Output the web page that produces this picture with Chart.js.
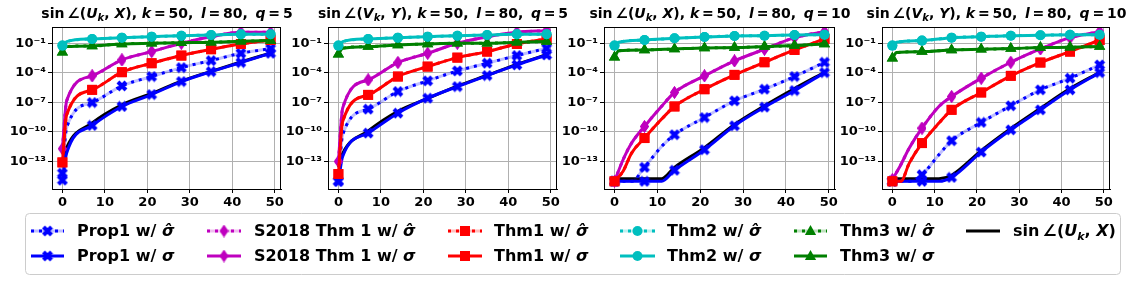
<!DOCTYPE html>
<html>
<head>
<meta charset="utf-8">
<script src="https://cdn.jsdelivr.net/npm/chart.js@4"></script>
<style>
  body { margin: 0; width: 1136px; height: 281px; background: #fff; position: relative; overflow: hidden;
         font-family: "DejaVu Sans", sans-serif; }
  canvas { position: absolute; top: 0; }
  .title { position: absolute; top: 5px; font-weight: bold; font-size: 14px; line-height: 16px;
           white-space: nowrap; transform: translateX(-50%); }
  .title sub { font-size: 10px; vertical-align: -3px; line-height: 0; }
  .lg { position: absolute; font-weight: bold; font-size: 16px; line-height: 20px; white-space: nowrap; }
  .lg sub { font-size: 11px; vertical-align: -4px; line-height: 0; }
</style>
</head>
<body>
<canvas id="legendBox" width="1136" height="281"></canvas>
<canvas id="c1"></canvas>
<canvas id="c2"></canvas>
<canvas id="c3"></canvas>
<canvas id="c4"></canvas>

<script>
// iteration index where values were read; markers sit on multiples of 7
const XS = [0, 1, 2, 4, 7, 11, 14, 21, 28, 35, 42, 49];
const _ = null;

// values are log10 of sin angle
// panel 1: sin∠(U_k, X), q = 5
const P1_PROP1_HAT = [-14.2, -9.55, _, _, -7.02, _, -5.33, -4.38, -3.47, -2.76, -2.02, -1.54];
const P1_PROP1     = [-14.9, -12.15, _, _, -9.35, _, -7.42, -6.21, -4.89, -3.88, -2.96, -2.02];
const P1_S2018     = [-11.71, -6.85, _, _, -4.31, _, -2.69, -1.85, -1.0, -0.33, 0.11, 0.11];
const P1_THM1      = [-13.1, -8.27, _, _, -5.73, _, -3.94, -3.03, -2.25, -1.61, -1.07, -0.67];
const P1_THM2      = [-1.24, -0.84, _, _, -0.56, _, -0.43, -0.33, -0.23, -0.16, -0.09, -0.09];
const P1_THM3      = [-1.92, -1.34, _, _, -1.27, _, -1.07, -1.0, -0.94, -0.9, -0.8, -0.73];
const P1_TRUE      = [-13.2, -11.6, _, _, -9.1, _, -7.25, -6.1, -4.85, -3.85, -2.9, -2.0];

// panel 2: sin∠(V_k, Y), q = 5
const P2_PROP1_HAT = [-15.02, -10.29, _, _, -7.69, _, -5.9, -4.82, -3.81, -3.03, -2.25, -1.51];
const P2_PROP1     = [-15.02, -12.49, _, _, -10.12, _, -8.1, -6.58, -5.4, -4.28, -3.2, -2.19];
const P2_S2018     = [-13.0, -7.59, _, _, -4.72, _, -2.96, -2.02, -1.0, -0.33, 0.11, 0.28];
const P2_THM1      = [-14.28, -8.94, _, _, -6.24, _, -4.38, -3.37, -2.46, -1.85, -1.07, -0.56];
const P2_THM2      = [-1.24, -0.84, _, _, -0.56, _, -0.43, -0.33, -0.23, -0.16, -0.09, -0.09];
const P2_THM3      = [-2.12, -1.5, _, _, -1.34, _, -1.17, -1.07, -1.0, -1.0, -0.9, -0.83];
const P2_TRUE      = [-13.6, -12.2, _, _, -9.9, _, -7.9, -6.6, -5.35, -4.25, -3.15, -2.15];

// panel 3: sin∠(U_k, X), q = 10
const P3_PROP1_HAT = [-15.02, _, -15.02, -15.02, -13.6, -11.48, -10.29, -8.54, -6.85, -5.67, -4.38, -2.93];
const P3_PROP1     = [-15.02, _, -15.02, -15.02, -15.02, -15.02, -13.9, -11.81, -9.38, -7.49, -5.8, -3.98];
const P3_S2018     = [-15.02, _, -12.83, -11.13, -9.45, -7.4, -6.0, -4.31, -2.79, -1.61, -0.43, 0.18];
const P3_THM1      = [-15.02, _, -14.0, -12.15, -10.63, -8.7, -7.42, -5.67, -4.21, -2.93, -1.68, -0.56];
const P3_THM2      = [-1.24, -0.9, _, _, -0.67, _, -0.5, -0.36, -0.26, -0.23, -0.16, -0.13];
const P3_THM3      = [-2.42, -1.75, _, _, -1.68, _, -1.58, -1.48, -1.44, -1.34, -1.24, -1.07];
const P3_TRUE      = [-14.75, _, -14.75, -14.75, -14.75, -14.75, -13.6, -11.6, -9.25, -7.35, -5.6, -3.95];

// panel 4: sin∠(V_k, Y), q = 10
const P4_PROP1_HAT = [-15.02, _, -15.02, -15.02, -14.35, -12.32, -10.9, -9.04, -7.35, -5.73, -4.55, -3.2];
const P4_PROP1     = [-15.02, _, -15.02, -15.02, -15.02, -15.02, -14.62, -12.05, -9.79, -7.76, -5.73, -3.98];
const P4_S2018     = [-14.85, _, -13.33, -11.64, -9.62, -7.42, -6.41, -4.55, -2.93, -1.58, -0.43, 0.18];
const P4_THM1      = [-15.02, _, -15.02, -13.17, -11.14, -9.11, -7.76, -6.0, -4.31, -2.96, -1.85, -0.67];
const P4_THM2      = [-1.24, -0.9, _, _, -0.73, _, -0.43, -0.33, -0.23, -0.19, -0.13, -0.13];
const P4_THM3      = [-2.52, -1.95, _, _, -1.85, _, -1.68, -1.61, -1.54, -1.44, -1.41, -1.34];
const P4_TRUE      = [-14.75, _, -14.75, -14.75, -14.75, -14.75, -14.4, -11.9, -9.65, -7.6, -5.6, -3.95];

const X_TICKS = [0, 10, 20, 30, 40, 50];
const Y_TICK_EXP = [-13, -10, -7, -4, -1];

const BLUE = '#0000ff', MAG = '#bf00bf', RED = '#ff0000', CYAN = '#00bfbf', GREEN = '#008000';
const FONT = '"DejaVu Sans", sans-serif';

// markers matplotlib has but chart.js doesn't
function markX(color) {
  const c = document.createElement('canvas');
  c.width = c.height = 12;
  const g = c.getContext('2d');
  g.strokeStyle = color; g.lineWidth = 4;
  g.beginPath(); g.moveTo(2, 2); g.lineTo(10, 10); g.moveTo(10, 2); g.lineTo(2, 10); g.stroke();
  return c;
}
function markThinDiamond(color) {
  const c = document.createElement('canvas');
  c.width = 9; c.height = 13;
  const g = c.getContext('2d');
  g.fillStyle = color;
  g.beginPath(); g.moveTo(4.5, 0); g.lineTo(9, 6.5); g.lineTo(4.5, 13); g.lineTo(0, 6.5); g.closePath(); g.fill();
  return c;
}
const X_MARK = markX(BLUE);
const D_MARK = markThinDiamond(MAG);

function pts(arr) {
  return XS.map((x, i) => arr[i] === null ? null : { x: x, y: Math.pow(10, arr[i]) }).filter(p => p);
}

function series(arr, color, dotted, style, size) {
  return {
    data: pts(arr),
    borderColor: color,
    backgroundColor: color,
    borderWidth: 3,
    borderDash: dotted ? [3, 5] : [],
    pointStyle: style,
    pointRadius: c => (style && c.raw && c.raw.x % 7 === 0) ? size : 0,
    pointBorderWidth: 0,
    cubicInterpolationMode: 'monotone',
  };
}
function pale(arr, color) {
  return { data: pts(arr), borderColor: color + '40', borderWidth: 3, pointRadius: 0,
           cubicInterpolationMode: 'monotone' };
}

const supMap = { '-': '\u207B', '0': '\u2070', '1': '\u00B9', '2': '\u00B2', '3': '\u00B3', '4': '\u2074',
                 '5': '\u2075', '6': '\u2076', '7': '\u2077', '8': '\u2078', '9': '\u2079' };
function expLabel(v) {
  const e = String(Math.round(Math.log10(v)));
  return '10' + e.split('').map(ch => supMap[ch]).join('');
}

const frame = {
  id: 'frame',
  afterDraw(chart) {
    const a = chart.chartArea, g = chart.ctx;
    g.save();
    g.strokeStyle = '#000'; g.lineWidth = 1;
    g.strokeRect(Math.round(a.left) + 0.5, Math.round(a.top) + 0.5,
                 Math.round(a.right - a.left) - 1, Math.round(a.bottom - a.top));
    g.restore();
  }
};

const panels = [
  { id: 'c1', axL: 52, axR: 282, lhs: 'U', rhs: 'X', q: 5,
    vals: [P1_PROP1_HAT, P1_PROP1, P1_S2018, P1_THM1, P1_THM2, P1_THM3, P1_TRUE] },
  { id: 'c2', axL: 328, axR: 558, lhs: 'V', rhs: 'Y', q: 5,
    vals: [P2_PROP1_HAT, P2_PROP1, P2_S2018, P2_THM1, P2_THM2, P2_THM3, P2_TRUE] },
  { id: 'c3', axL: 604, axR: 836, lhs: 'U', rhs: 'X', q: 10,
    vals: [P3_PROP1_HAT, P3_PROP1, P3_S2018, P3_THM1, P3_THM2, P3_THM3, P3_TRUE] },
  { id: 'c4', axL: 882, axR: 1111, lhs: 'V', rhs: 'Y', q: 10,
    vals: [P4_PROP1_HAT, P4_PROP1, P4_S2018, P4_THM1, P4_THM2, P4_THM3, P4_TRUE] },
];

const YW = 52, PADR = 6, H = 210;

panels.forEach(p => {
  const [propHat, prop, s2018, thm1, thm2, thm3, truth] = p.vals;
  const cv = document.getElementById(p.id);
  cv.width = YW + (p.axR - p.axL) + PADR;
  cv.height = H;
  cv.style.left = (p.axL - YW) + 'px';

  // bottom first, top last
  const layers = [
    { data: pts(truth), borderColor: '#000', borderWidth: 3, pointRadius: 0, cubicInterpolationMode: 'monotone' },
    pale(propHat, BLUE),
    series(propHat, BLUE, true, X_MARK, 6),
    series(prop, BLUE, false, X_MARK, 6),
    series(s2018, MAG, true, D_MARK, 6),
    series(s2018, MAG, false, D_MARK, 6),
    series(thm1, RED, true, 'rect', 7),
    series(thm1, RED, false, 'rect', 7),
    series(thm3, GREEN, true, 'triangle', 6.5),
    series(thm3, GREEN, false, 'triangle', 6.5),
    series(thm2, CYAN, true, 'circle', 5),
    series(thm2, CYAN, false, 'circle', 5),
  ];
  layers.forEach((d, i) => { d.order = layers.length - i; });

  new Chart(cv, {
    type: 'line',
    data: { datasets: layers },
    plugins: [frame],
    options: {
      responsive: false,
      animation: false,
      devicePixelRatio: 1,
      layout: { padding: { top: 27, right: PADR, left: 0, bottom: 0 } },
      plugins: { legend: { display: false }, tooltip: { enabled: false } },
      scales: {
        x: {
          type: 'linear', min: -2.45, max: 51.45,
          afterBuildTicks: s => { s.ticks = X_TICKS.map(v => ({ value: v })); },
          afterFit: s => { s.height = H - 189; },
          grid: { color: '#b0b0b0', lineWidth: 1, tickColor: '#000', tickLength: 4 },
          border: { color: '#000', width: 1 },
          ticks: { color: '#000', padding: 2, maxRotation: 0, autoSkip: false,
                   font: { family: FONT, size: 13, weight: 'bold' } },
        },
        y: {
          type: 'logarithmic', min: Math.pow(10, -15.8), max: Math.pow(10, 0.65),
          afterBuildTicks: s => { s.ticks = Y_TICK_EXP.map(e => ({ value: Math.pow(10, e) })); },
          afterFit: s => { s.width = YW; },
          grid: { color: '#b0b0b0', lineWidth: 1, tickColor: '#000', tickLength: 4 },
          border: { color: '#000', width: 1 },
          ticks: { color: '#000', padding: 2, autoSkip: false, callback: v => expLabel(v),
                   font: { family: FONT, size: 13, weight: 'bold' } },
        },
      },
    },
  });

  const t = document.createElement('div');
  t.className = 'title';
  t.style.left = ((p.axL + p.axR) / 2) + 'px';
  t.innerHTML = 'sin\u2009\u2220(<i>' + p.lhs + '<sub>k</sub></i>, <i>' + p.rhs + '</i>), ' +
                '<i>k</i>\u2009=\u200950, \u2009<i>l</i>\u2009=\u200980, \u2009<i>q</i>\u2009=\u2009' + p.q;
  document.body.appendChild(t);
});

// legend: box, line samples and text
const ROW1 = 231, ROW2 = 256;
const legendItems = [
  { x0: 31,  x1: 64,   tx: 77,   color: BLUE,  mark: 'X', name: 'Prop1' },
  { x0: 207, x1: 241,  tx: 254,  color: MAG,   mark: 'd', name: 'S2018 Thm 1' },
  { x0: 448, x1: 482,  tx: 494,  color: RED,   mark: 's', name: 'Thm1' },
  { x0: 620, x1: 655,  tx: 667,  color: CYAN,  mark: 'o', name: 'Thm2' },
  { x0: 794, x1: 827,  tx: 840,  color: GREEN, mark: '^', name: 'Thm3' },
];

const lg = document.getElementById('legendBox').getContext('2d');
lg.strokeStyle = '#cccccc'; lg.lineWidth = 1;
lg.beginPath();
lg.roundRect(25.5, 213.5, 1095, 61, 4);
lg.stroke();

function drawMark(m, x, y, color) {
  lg.fillStyle = color;
  if (m === 'X') lg.drawImage(X_MARK, x - 6, y - 6);
  else if (m === 'd') lg.drawImage(D_MARK, x - 4.5, y - 6.5);
  else if (m === 's') lg.fillRect(x - 5, y - 5, 10, 10);
  else if (m === 'o') { lg.beginPath(); lg.arc(x, y, 5, 0, Math.PI * 2); lg.fill(); }
  else if (m === '^') { lg.beginPath(); lg.moveTo(x, y - 6); lg.lineTo(x + 5.6, y + 4); lg.lineTo(x - 5.6, y + 4); lg.closePath(); lg.fill(); }
}
function sample(it, y, dotted) {
  lg.lineWidth = 3;
  if (dotted) {
    lg.strokeStyle = it.color + '40'; lg.setLineDash([]);
    lg.beginPath(); lg.moveTo(it.x0, y); lg.lineTo(it.x1, y); lg.stroke();
    lg.setLineDash([3, 5]);
  } else lg.setLineDash([]);
  lg.strokeStyle = it.color;
  lg.beginPath(); lg.moveTo(it.x0, y); lg.lineTo(it.x1, y); lg.stroke();
  lg.setLineDash([]);
  drawMark(it.mark, (it.x0 + it.x1) / 2, y, it.color);
}
function label(x, y, html) {
  const d = document.createElement('div');
  d.className = 'lg';
  d.style.left = x + 'px';
  d.style.top = (y - 10) + 'px';
  d.innerHTML = html;
  document.body.appendChild(d);
}

legendItems.forEach(it => {
  sample(it, ROW1, true);
  sample(it, ROW2, false);
  label(it.tx, ROW1, it.name + ' w/ <i>\u03C3\u0302</i>');
  label(it.tx, ROW2, it.name + ' w/ <i>\u03C3</i>');
});
// true angle line
lg.strokeStyle = '#000'; lg.lineWidth = 3;
lg.beginPath(); lg.moveTo(966, ROW1); lg.lineTo(1000, ROW1); lg.stroke();
label(1013, ROW1, 'sin\u2009\u2220(<i>U<sub>k</sub></i>, <i>X</i>)');
</script>
</body>
</html>
